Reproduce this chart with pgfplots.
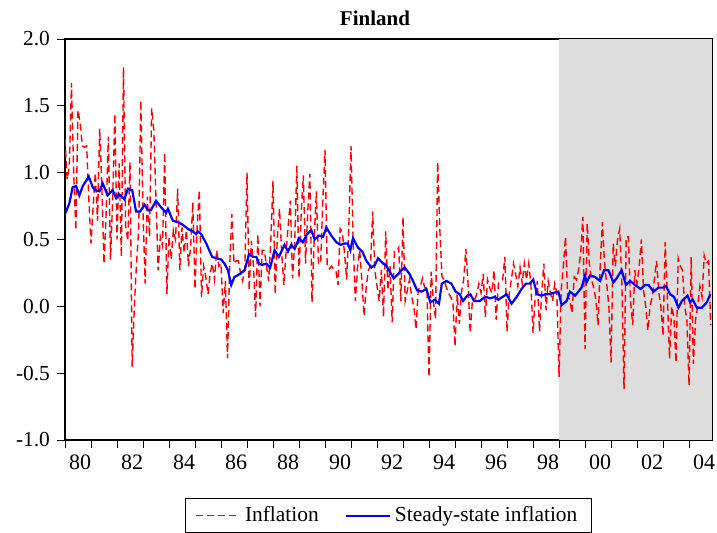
\documentclass[border=0pt]{standalone}
\usepackage{fontspec}
\setmainfont{Liberation Serif}
\usepackage{pgfplots}
\pgfplotsset{compat=1.18}
\definecolor{shade}{RGB}{221,221,221}
\definecolor{infl}{RGB}{255,0,0}
\definecolor{ss}{RGB}{0,0,255}
\begin{document}
\begin{tikzpicture}
\useasboundingbox (-32.5pt,-46pt) rectangle (326pt,220pt);
\begin{axis}[
  at={(0,0)}, anchor=south west,
  scale only axis, width=323.5pt, height=200.5pt,
  xmin=0, xmax=298.6, ymin=-1, ymax=2,
  axis line style={line width=0.9pt},
  tick align=outside, xtick pos=bottom, ytick pos=left,
  major tick length=4pt,
  tick style={line width=0.5pt, black},
  xtick={0,12,...,288},
  xticklabels={80,,82,,84,,86,,88,,90,,92,,94,,96,,98,,00,,02,,04},
  xticklabel style={anchor=north west, xshift=-1.5pt, font=\fontsize{11}{12}\selectfont},
  ytick={-1,-0.5,0,0.5,1,1.5,2},
  yticklabels={-1.0,-0.5,0.0,0.5,1.0,1.5,2.0},
  yticklabel style={font=\fontsize{10.7}{12}\selectfont},
  legend columns=2,
  legend style={at={(0.5,-0.145)}, anchor=north, draw=black, line width=0.5pt,
    font=\fontsize{10.7}{12}\selectfont, inner xsep=5pt, inner ysep=2pt,
    /tikz/every even column/.append style={column sep=11pt}},
  legend cell align=left,
  legend image code/.code={\draw[#1] (0pt,0pt) -- (22pt,0pt);},
]
\addplot[fill=shade, draw=none, forget plot] coordinates {(228,-1) (228,2) (298.6,2) (298.6,-1)} -- cycle;
\addplot[color=infl, line width=0.7pt, dash pattern=on 3.5pt off 2pt] coordinates {
(0,1.25)(1,0.95)(2,1.05)(3,1.67)(4,1.0)(5,0.57)(6,1.47)(7,1.37)(8,1.2)(9,1.19)
(10,1.2)(11,0.8)(12,0.47)(13,0.75)(14,1.0)(15,0.64)(16,1.33)(17,0.9)(18,0.32)(19,0.7)
(20,1.27)(21,0.35)(22,0.8)(23,1.44)(24,0.5)(25,1.07)(26,0.37)(27,1.79)(28,0.6)(29,0.49)
(30,1.08)(31,-0.45)(32,0.0)(33,0.32)(34,0.57)(35,1.54)(36,0.7)(37,0.17)(38,0.82)(39,0.52)
(40,1.48)(41,1.32)(42,0.8)(43,0.27)(44,0.52)(45,0.45)(46,1.15)(47,0.09)(48,0.52)(49,0.35)
(50,0.57)(51,0.5)(52,0.88)(53,0.27)(54,0.59)(55,0.4)(56,0.57)(57,0.3)(58,0.45)(59,0.78)
(60,0.13)(61,0.6)(62,0.87)(63,0.07)(64,0.3)(65,0.22)(66,0.09)(67,0.25)(68,0.32)(69,0.2)
(70,0.42)(71,0.3)(72,0.32)(73,-0.05)(74,0.19)(75,-0.39)(76,0.3)(77,0.69)(78,0.32)(79,0.34)
(80,0.34)(81,0.25)(82,0.19)(83,0.3)(84,1.0)(85,0.12)(86,0.49)(87,0.3)(88,-0.08)(89,0.54)
(90,0.0)(91,0.42)(92,0.42)(93,0.3)(94,0.19)(95,0.5)(96,0.94)(97,0.09)(98,0.52)(99,0.73)
(100,0.4)(101,0.16)(102,0.4)(103,0.6)(104,0.79)(105,0.21)(106,0.47)(107,1.05)(108,0.21)(109,0.7)
(110,0.98)(111,0.32)(112,0.7)(113,0.99)(114,0.03)(115,0.5)(116,0.86)(117,0.32)(118,0.32)(119,0.8)
(120,1.17)(121,0.3)(122,0.28)(123,0.3)(124,0.28)(125,0.27)(126,0.16)(127,0.58)(128,0.55)(129,0.4)
(130,0.2)(131,0.6)(132,1.2)(133,0.47)(134,0.04)(135,0.29)(136,0.42)(137,0.2)(138,-0.07)(139,0.14)
(140,0.27)(141,0.3)(142,0.71)(143,0.27)(144,0.15)(145,0.04)(146,0.27)(147,-0.08)(148,0.56)(149,0.12)
(150,0.3)(151,-0.12)(152,0.41)(153,0.41)(154,0.44)(155,0.04)(156,0.67)(157,0.04)(158,0.12)(159,0.2)
(160,0.07)(161,0.0)(162,-0.17)(163,0.12)(164,0.15)(165,0.21)(166,0.14)(167,0.14)(168,-0.53)(169,0.26)
(170,0.04)(171,-0.09)(172,1.08)(173,0.57)(174,0.22)(175,0.2)(176,0.14)(177,0.1)(178,0.07)(179,0.04)
(180,-0.3)(181,0.09)(182,-0.13)(183,0.11)(184,0.2)(185,0.43)(186,0.17)(187,-0.2)(188,0.04)(189,0.05)
(190,0.09)(191,0.17)(192,0.1)(193,0.24)(194,-0.08)(195,0.2)(196,0.14)(197,0.1)(198,0.27)(199,-0.1)
(200,0.17)(201,0.19)(202,0.2)(203,0.37)(204,-0.19)(205,0.09)(206,0.2)(207,0.32)(208,0.24)(209,0.15)
(210,0.29)(211,0.17)(212,0.32)(213,0.2)(214,0.32)(215,0.17)(216,-0.2)(217,0.07)(218,0.19)(219,-0.19)
(220,0.1)(221,0.32)(222,-0.03)(223,0.19)(224,0.1)(225,0.04)(226,0.17)(227,0.1)(228,-0.53)(229,0.12)
(230,0.3)(231,0.52)(232,0.07)(233,0.05)(234,-0.05)(235,0.22)(236,0.2)(237,0.27)(238,0.4)(239,0.67)
(240,-0.32)(241,0.62)(242,0.32)(243,0.2)(244,0.14)(245,0.05)(246,-0.14)(247,0.3)(248,0.63)(249,0.32)
(250,0.17)(251,0.0)(252,-0.42)(253,0.47)(254,0.3)(255,0.5)(256,0.58)(257,0.17)(258,-0.62)(259,0.52)
(260,0.52)(261,0.04)(262,-0.14)(263,0.27)(264,0.17)(265,0.3)(266,0.5)(267,0.12)(268,0.0)(269,-0.18)
(270,0.0)(271,0.07)(272,0.2)(273,0.34)(274,0.11)(275,0.0)(276,-0.22)(277,0.48)(278,0.07)(279,-0.39)
(280,0.0)(281,-0.08)(282,-0.42)(283,0.36)(284,0.3)(285,0.27)(286,0.0)(287,-0.1)(288,-0.59)(289,0.37)
(290,-0.43)(291,-0.1)(292,0.0)(293,0.15)(294,0.07)(295,0.38)(296,0.32)(297,0.34)(298,-0.14)
};
\addlegendentry{Inflation}
\addplot[color=ss, line width=1.1pt] coordinates {
(0,0.69)(2,0.77)(3.5,0.89)(5.1,0.9)(6.6,0.83)(8.2,0.9)(11,0.97)(12.8,0.89)(14,0.87)(15.9,0.86)
(17.4,0.92)(19.7,0.83)(22,0.87)(23.6,0.81)(24.8,0.84)(26.3,0.82)(27.4,0.80)(29,0.88)(31,0.87)(32.8,0.71)
(34.7,0.71)(36.7,0.76)(38.2,0.72)(39.7,0.72)(42,0.79)(44.4,0.74)(46.7,0.70)(47.5,0.73)(49.8,0.64)(52.1,0.63)
(54.4,0.61)(56.7,0.58)(59,0.56)(60.5,0.54)(61.3,0.56)(62.9,0.54)(65.2,0.47)(67.9,0.37)(69.8,0.36)(72.1,0.35)
(73.6,0.32)(75.2,0.27)(76.7,0.16)(78.2,0.22)(80.5,0.24)(82.9,0.27)(84.9,0.39)(86.7,0.37)(88.3,0.37)(89.5,0.32)
(91,0.31)(92.9,0.32)(94.7,0.29)(96.7,0.42)(98.7,0.37)(101.3,0.46)(102.9,0.41)(104.4,0.46)(106,0.43)(108,0.51)
(109.8,0.48)(111.7,0.54)(113.7,0.57)(115.2,0.5)(117.2,0.53)(119.1,0.52)(120.6,0.59)(122.9,0.53)(125.2,0.48)(127.1,0.46)
(129.1,0.47)(130.6,0.47)(131.7,0.42)(132.9,0.51)(135.2,0.44)(137.2,0.41)(139.1,0.34)(141.4,0.29)(143,0.31)(144.5,0.36)
(146.8,0.32)(148,0.31)(149.5,0.27)(151.7,0.21)(153.7,0.24)(155.2,0.27)(156.8,0.29)(159.1,0.24)(160.6,0.19)(162.5,0.12)
(164.5,0.11)(166.8,0.13)(168.6,0.03)(170.6,0.05)(172.6,0.02)(173.9,0.17)(176,0.19)(178.3,0.17)(180.3,0.11)(182.2,0.09)
(183.7,0.04)(185.6,0.08)(187.1,0.09)(188.8,0.04)(191.4,0.04)(193,0.06)(194.5,0.07)(196,0.06)(198.4,0.07)(200,0.05)
(201.9,0.07)(203.8,0.09)(206.1,0.02)(208.4,0.07)(210.7,0.13)(212.7,0.17)(214.5,0.17)(216.1,0.2)(217.9,0.09)(219.9,0.08)
(221.5,0.09)(223,0.09)(225.3,0.1)(227.7,0.11)(229.2,0.01)(231.5,0.04)(233,0.11)(235.4,0.08)(238.4,0.14)(240,0.23)
(240.7,0.18)(242.3,0.23)(244.6,0.22)(246.9,0.19)(248.8,0.27)(250.8,0.27)(253.1,0.18)(254.6,0.21)(256.9,0.27)(258.9,0.16)
(260.8,0.19)(263.1,0.16)(265.7,0.13)(267.7,0.16)(269.3,0.16)(271.6,0.11)(273.9,0.14)(275.9,0.14)(277.4,0.15)(279.3,0.09)
(281.1,0.07)(283.1,-0.01)(284.7,0.04)(287.3,0.08)(288.5,0.03)(289.7,0.05)(291.6,-0.01)(293.9,-0.01)(296.2,0.03)(297.8,0.09)
};
\addlegendentry{Steady-state inflation}
\end{axis}
\node[anchor=base, font=\bfseries\fontsize{10.5}{12}\selectfont] at (155pt,207.5pt) {Finland};
\end{tikzpicture}
\end{document}
